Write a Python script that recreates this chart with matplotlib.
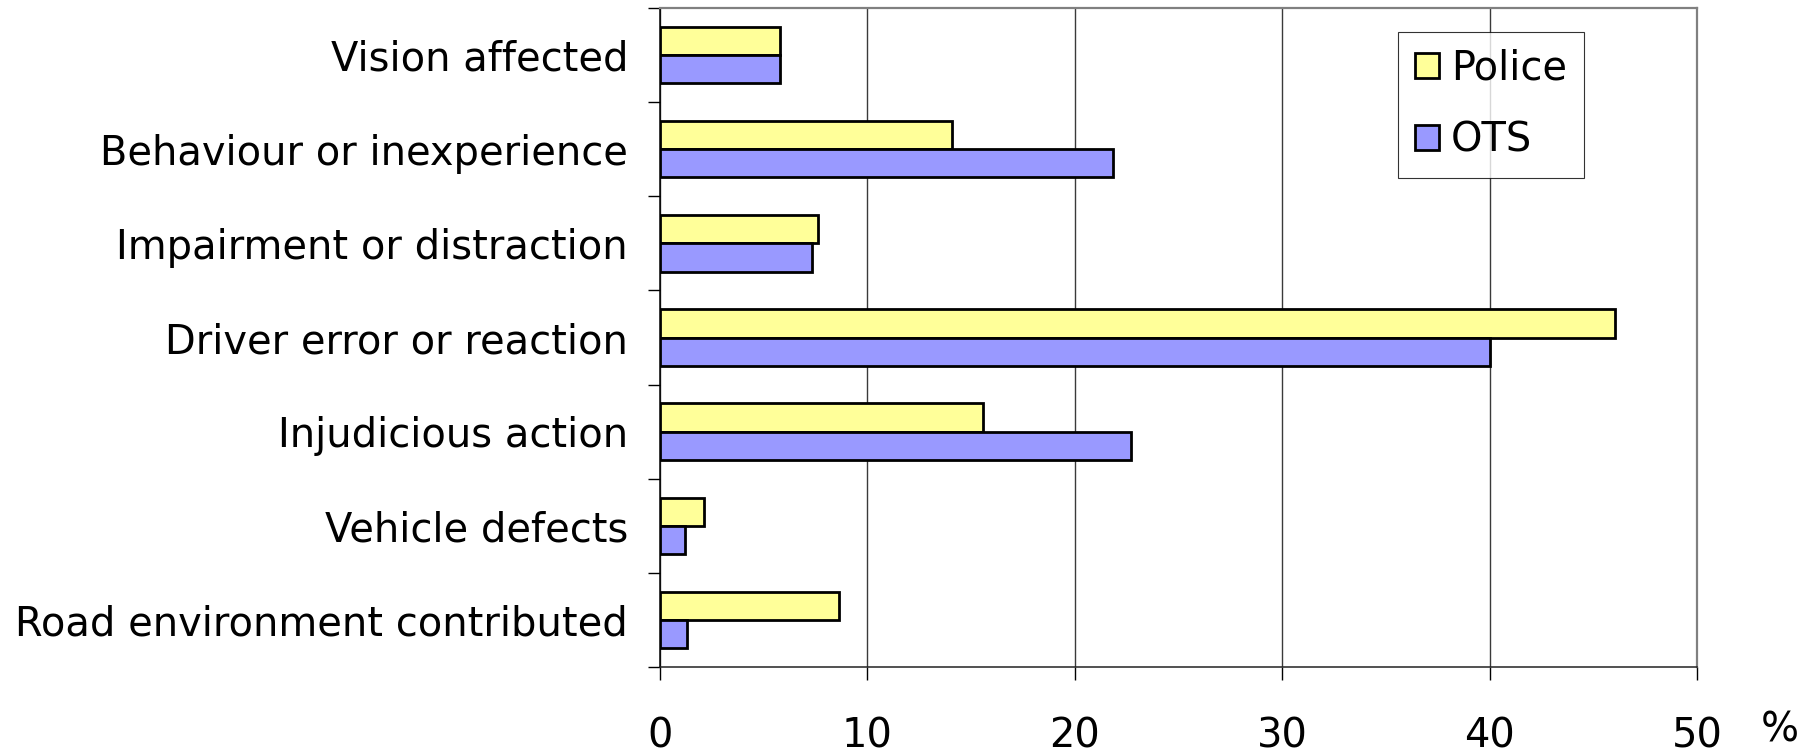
import matplotlib
matplotlib.use("Agg")
import matplotlib.pyplot as plt
import numpy as np

categories = [
    "Vision affected",
    "Behaviour or inexperience",
    "Impairment or distraction",
    "Driver error or reaction",
    "Injudicious action",
    "Vehicle defects",
    "Road environment contributed",
]
police = [5.8, 14.1, 7.6, 46.05, 15.55, 2.1, 8.65]
ots = [5.8, 21.85, 7.35, 40.0, 22.7, 1.2, 1.3]
series_names = ["Police", "OTS"]
x_ticks = [0, 10, 20, 30, 40, 50]

FS = 28.8
plt.rcParams["font.family"] = ["DejaVu Sans"]

fig = plt.figure(figsize=(18.16, 7.54), dpi=100)
ax = fig.add_axes([660 / 1816, 1 - 667 / 754, (1697 - 660) / 1816, (667 - 8) / 754])

y = np.arange(len(categories))
h = 0.3
ax.barh(y - h / 2, police, height=h, color="#FFFF99", edgecolor="black",
        linewidth=2, label=series_names[0], zorder=3)
ax.barh(y + h / 2, ots, height=h, color="#9999FF", edgecolor="black",
        linewidth=2, label=series_names[1], zorder=3)

ax.set_xlim(0, 50)
ax.set_ylim(len(categories) - 0.5, -0.5)

ax.set_xticks(x_ticks)
ax.set_xticklabels([str(t) for t in x_ticks], fontsize=FS)
ax.tick_params(axis="x", length=9.3, width=1, color="black", pad=26)

ax.set_yticks(y)
ax.set_yticklabels(categories, fontsize=FS)
ax.set_yticks(np.arange(-0.5, len(categories) + 0.5, 1), minor=True)
ax.tick_params(axis="y", which="major", length=0, pad=23)
ax.tick_params(axis="y", which="minor", length=9, width=1, color="black")

ax.xaxis.grid(True, color="#3a3a3a", linewidth=1)
ax.set_axisbelow(True)

ax.spines["left"].set_color("black")
ax.spines["left"].set_linewidth(1.1)
ax.spines["bottom"].set_color("#222222")
ax.spines["bottom"].set_linewidth(1.1)
ax.spines["top"].set_color("#808080")
ax.spines["top"].set_linewidth(1.6)
ax.spines["right"].set_color("#808080")
ax.spines["right"].set_linewidth(1.6)

leg = ax.legend(
    loc="upper left",
    bbox_to_anchor=(1398 / 1816, 1 - 32 / 754),
    bbox_transform=fig.transFigure,
    fontsize=FS,
    frameon=True,
    fancybox=False,
    shadow=False,
    borderaxespad=0,
    borderpad=0.42,
    handlelength=0.6,
    handleheight=0.6,
    handletextpad=0.3,
    labelspacing=0.8,
)
leg.get_frame().set_edgecolor("black")
leg.get_frame().set_linewidth(0.8)
for patch in leg.get_patches():
    patch.set_linewidth(2)

fig.text(1780 / 1816, 1 - 731 / 754, "%", fontsize=FS, ha="center", va="center")

fig.savefig("out.png", dpi=100, facecolor="white")
